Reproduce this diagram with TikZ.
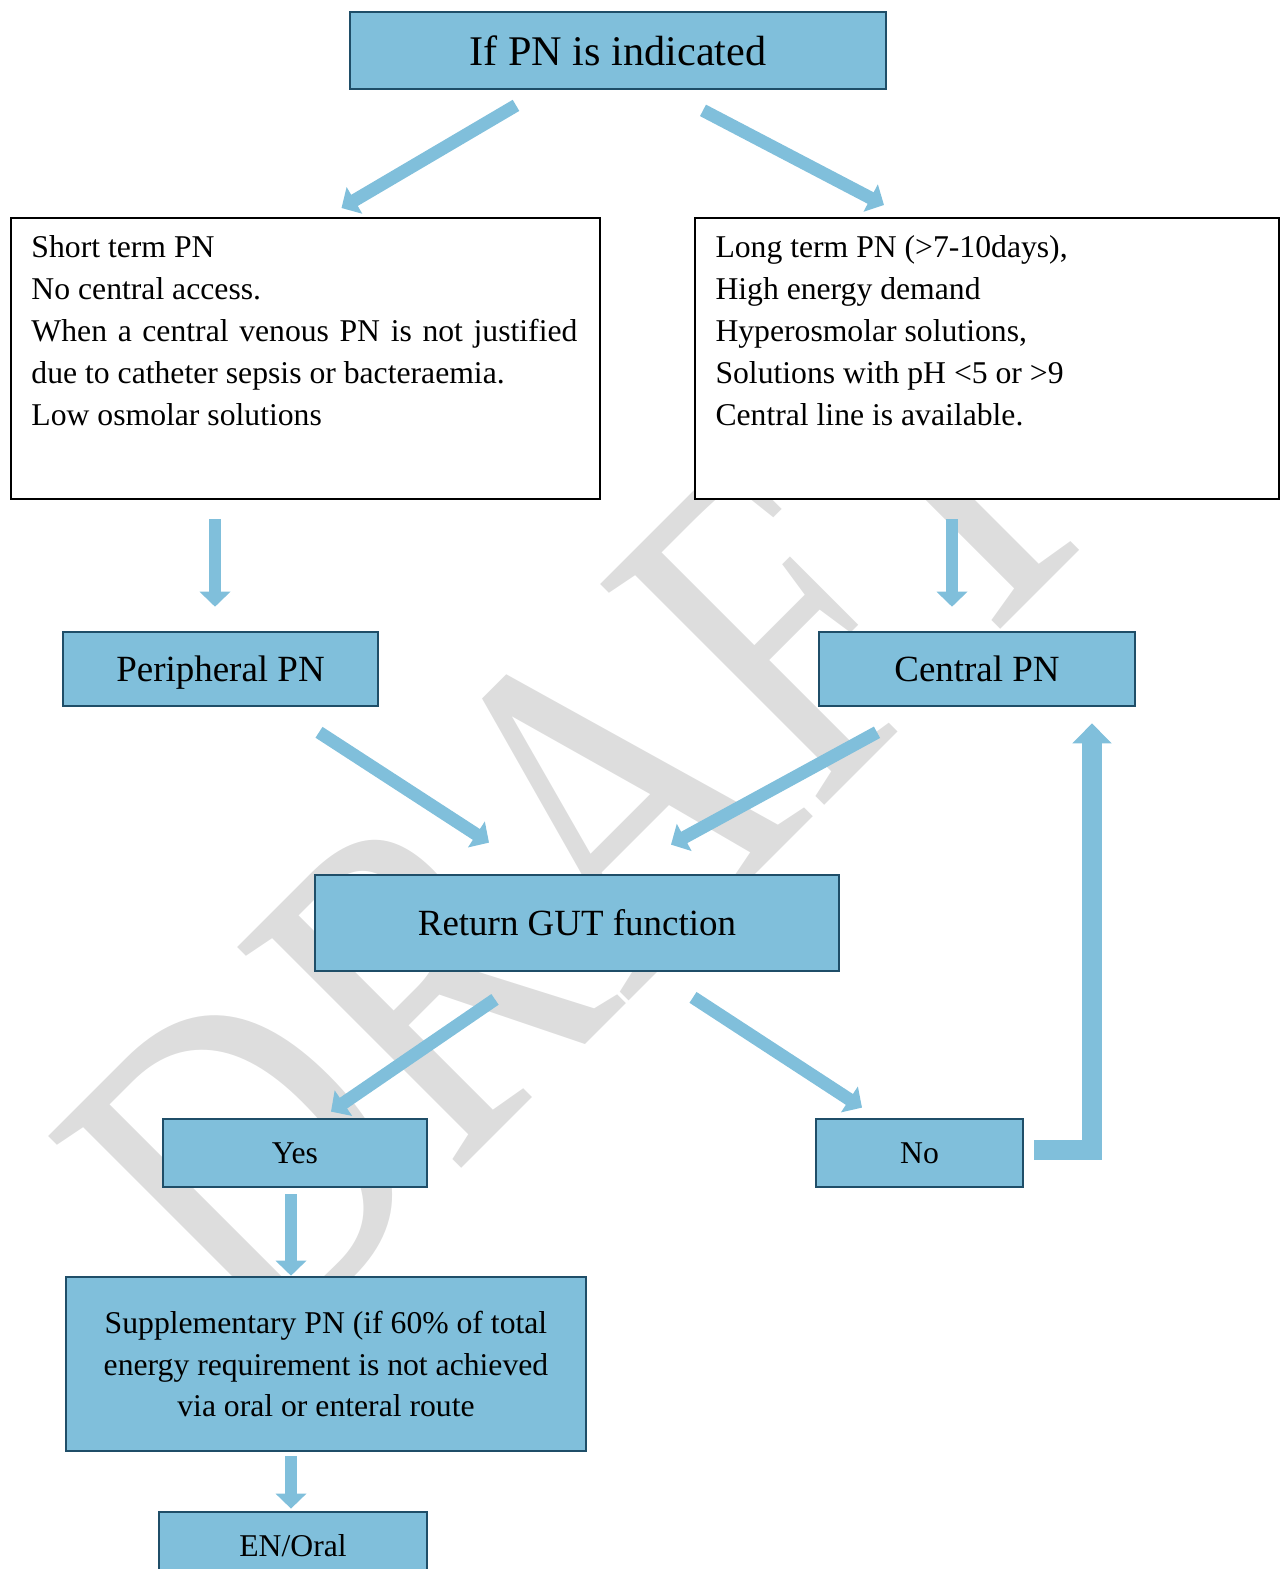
\documentclass[tikz,border=0pt]{standalone}
\usepackage{fontspec}
\setmainfont{Liberation Serif}
\usetikzlibrary{arrows.meta,calc}
\definecolor{boxblue}{RGB}{128,191,219}
\definecolor{boxline}{RGB}{31,78,104}
\definecolor{wmgray}{RGB}{221,221,221}
\tikzset{
  bluebox/.style={rectangle, draw=boxline, line width=1pt, fill=boxblue, inner sep=0pt},
  textbox/.style={rectangle, draw=black, line width=0.8pt, fill=white, inner sep=0pt},
  boxtext/.style={anchor=north west, inner sep=0pt, align=left, font=\fontsize{12}{15.9}\selectfont},
  flow/.style={draw=boxblue, line width=4.9pt, -{Triangle[length=5.7pt,width=11.4pt]}},
  bigflow/.style={draw=boxblue, line width=7.6pt, line join=miter, -{Triangle[length=7.6pt,width=14.4pt]}}
}

\begin{document}
\begin{tikzpicture}[x=0.3788pt, y=-0.3788pt]
    \useasboundingbox (0,0) rectangle (1287,1569);
    % watermark behind everything
    \node[text=wmgray, rotate=45, yscale=1.3, anchor=base west, inner sep=0pt, font=\fontsize{140}{140}\selectfont] (draft) at (263,1367) {DRAFT};
    \node[bluebox, minimum width=203pt, minimum height=29.2pt, font=\fontsize{16}{19}\selectfont] (top) at (618,50.5) {If PN is indicated};
    \node[textbox, minimum width=223.1pt, minimum height=106.4pt] (short) at (305.5,358.5) {};
    \node[boxtext, text width=206.8pt, align=justify] (shorttxt) at ($(short.north west)+(21,18)$) {Short term PN\\No central access.\\When a central venous PN is not justified\linebreak due to catheter sepsis or bacteraemia.\\Low osmolar solutions};
    \node[textbox, minimum width=221.2pt, minimum height=106.4pt] (long) at (987,358.5) {};
    \node[boxtext] (longtxt) at ($(long.north west)+(21,18)$) {Long term PN (>7-10days),\\High energy demand\\Hyperosmolar solutions,\\Solutions with pH <5 or >9\\Central line is available.};
    \node[bluebox, text depth=0pt, minimum width=119.3pt, minimum height=28pt, font=\fontsize{14}{17}\selectfont] (periph) at (220.5,669) {Peripheral PN};
    \node[bluebox, minimum width=119.7pt, minimum height=28pt, font=\fontsize{14}{17}\selectfont] (central) at (977,669) {Central PN};
    \node[bluebox, minimum width=198.5pt, minimum height=36.4pt, font=\fontsize{14}{17}\selectfont] (ret) at (577,923) {Return GUT function};
    \node[bluebox, minimum width=100pt, minimum height=25.8pt, font=\fontsize{12}{15.9}\selectfont] (yes) at (295,1153) {Yes};
    \node[bluebox, minimum width=78.4pt, minimum height=25.8pt, font=\fontsize{12}{15.9}\selectfont] (no) at (919.5,1153) {No};
    \node[bluebox, align=center, minimum width=197pt, minimum height=65.9pt, font=\fontsize{12}{15.9}\selectfont] (supp) at (326,1364) {Supplementary PN (if 60\% of total\\energy requirement is not achieved\\via oral or enteral route};
    \node[bluebox, minimum width=101.5pt, minimum height=25.8pt, font=\fontsize{12}{15.9}\selectfont] (enoral) at (293,1546) {EN/Oral};
    % arrows
    \draw[flow] ($(top.south)+(-102,15)$) -- ($(short.north)+(36,-9)$);
    \draw[flow] ($(top.south)+(85,20)$) -- ($(long.north)+(-103,-12)$);
    \draw[flow] ($(short.south)+(-90.5,19)$) -- ($(periph.north)+(-5.5,-24)$);
    \draw[flow] ($(long.south)+(-35,19)$) -- ($(central.north)+(-25,-24)$);
    \draw[flow] ($(periph.south)+(98.5,25)$) -- ($(ret.north)+(-88,-31)$);
    \draw[flow] ($(central.south)+(-100,25)$) -- ($(ret.north)+(94,-29)$);
    \draw[flow] ($(ret.south)+(-82,27)$) -- ($(yes.north)+(36,-6)$);
    \draw[flow] ($(ret.south)+(116,25)$) -- ($(no.north)+(-57.5,-10)$);
    \draw[flow] ($(yes.south)+(-4,6)$) -- ($(supp.north)+(-35,0)$);
    \draw[flow] ($(supp.south)+(-35,4)$) -- ($(enoral.north)+(-2,-2)$);
    \draw[bigflow] ($(no.east)+(10,-3)$) -| ($(central.south)+(115,16)$);
\end{tikzpicture}
\end{document}
